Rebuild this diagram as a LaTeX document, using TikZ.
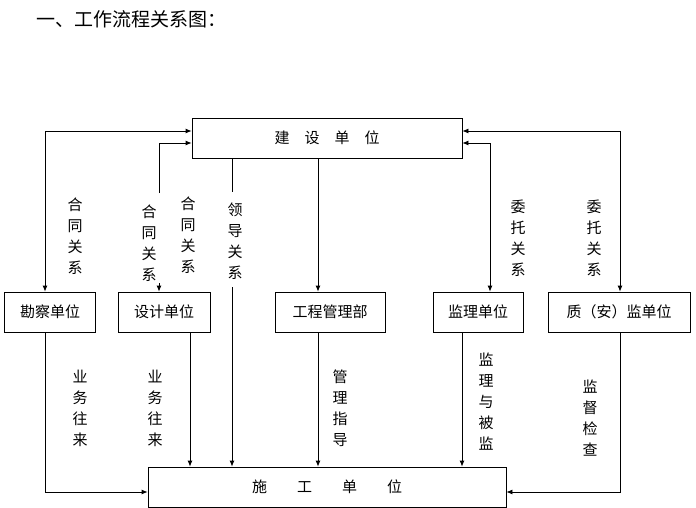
\documentclass[tikz,border=0pt]{standalone}
\usepackage{fontspec}
\setmainfont{Noto Sans CJK SC}
\usetikzlibrary{arrows.meta}
\begin{document}
\begin{tikzpicture}
  [
    x = 1pt, y = -1pt,
    unit/.style  = {draw, thick, minimum height=40pt, font=\fontsize{15}{15}\selectfont, inner sep=0pt},
    rel/.style   = {font=\fontsize{15}{21}\selectfont, align=center, text width=16pt, inner sep=0pt},
    link/.style  = {draw, thick, -{Latex[length=6pt,width=5pt]}},
    duplex/.style = {draw, thick, {Latex[length=6pt,width=5pt]}-{Latex[length=6pt,width=5pt]}}
  ]
  \useasboundingbox (0,0) rectangle (696,508);
  \node[anchor=west, font=\fontsize{19}{19}\selectfont] (title) at (33,19) {一、工作流程关系图：};
  % top and bottom units
  \node[unit, minimum width=270pt] (owner) at (327,138) {建\quad 设\quad 单\quad 位};
  \node[unit, minimum width=358pt] (builder) at (327,487) {施\qquad 工\qquad 单\qquad 位};
  % middle units
  \node[unit, minimum width=91pt] (survey) at (50,312) {勘察单位};
  \node[unit, minimum width=92pt] (design) at (164,312) {设计单位};
  \node[unit, minimum width=110pt] (manage) at (330,312) {工程管理部};
  \node[unit, minimum width=90pt] (super) at (478,312) {监理单位};
  \node[unit, minimum width=142pt] (quality) at (619,312) {质（安）监单位};
  % contract relations
  \draw[duplex] (survey.north -| 45,0) |- (owner.west |- 0,131);
  \coordinate (dtop) at (159,193);
  \draw[link] (dtop) |- (owner.west |- 0,143);
  \coordinate (dgap) at (159,283);
  \draw[link] (dgap) -- (design.north -| dgap);
  \draw[duplex] (super.north -| 490,0) |- (owner.east |- 0,143);
  \draw[duplex] (quality.north -| 620,0) |- (owner.east |- 0,131);
  % lead relation
  \coordinate (lead) at (232,192);
  \draw[thick] (owner.south -| lead) -- (lead);
  \coordinate (lead2) at (232,287);
  \draw[link] (lead2) -- (builder.north -| lead2);
  \draw[link] (owner.south -| 318,0) -- (manage.north -| 318,0);
  % down to the builder
  \draw[link] (survey.south -| 45,0) |- (builder.west |- 0,492);
  \draw[link] (design.south -| 190,0) -- (builder.north -| 190,0);
  \draw[link] (manage.south -| 318,0) -- (builder.north -| 318,0);
  \draw[link] (super.south -| 462,0) -- (builder.north -| 462,0);
  \draw[link] (quality.south -| 620,0) |- (builder.east |- 0,492);
  \draw[thick] (builder.south -| 318,0) -- (318,508);
  % labels
  \node[rel] (l1) at (75,236) {合\\同\\关\\系};
  \node[rel] (l2) at (149,243) {合\\同\\关\\系};
  \node[rel] (l3) at (188,235) {合\\同\\关\\系};
  \node[rel] (l4) at (235,241) {领\\导\\关\\系};
  \node[rel] (l5) at (518,238) {委\\托\\关\\系};
  \node[rel] (l6) at (594,238) {委\\托\\关\\系};
  \node[rel] (l7) at (80,408) {业\\务\\往\\来};
  \node[rel] (l8) at (155,408) {业\\务\\往\\来};
  \node[rel] (l9) at (340,408) {管\\理\\指\\导};
  \node[rel] (l10) at (486,402) {监\\理\\与\\被\\监};
  \node[rel] (l11) at (590,418) {监\\督\\检\\查};
\end{tikzpicture}
\end{document}
